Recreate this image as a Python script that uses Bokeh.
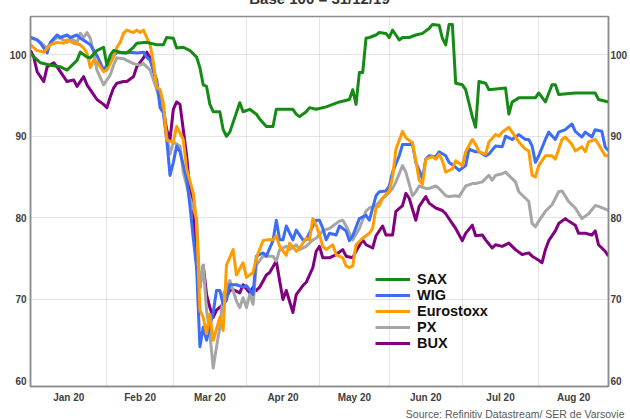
from bokeh.plotting import figure
from bokeh.models import Range1d, FixedTicker, Legend, LegendItem, LinearAxis, Title
from bokeh.embed import file_html
from bokeh.resources import INLINE

# Month labels and trading-day index where each month starts (weekday count from 31/12/19)
months = ["Jan 20", "Feb 20", "Mar 20", "Apr 20", "May 20", "Jun 20", "Jul 20", "Aug 20"]
month_starts = [0, 23, 43, 65, 87, 108, 130, 153, 174]
y_ticks = [60, 70, 80, 90, 100]

sax_x = [0, 3, 6, 9, 11, 12, 14, 15, 17, 18, 20, 22, 23, 24, 25, 27, 29, 31, 32, 35, 38, 40, 41, 43, 44, 46, 48, 50,
         51, 52, 53, 54, 55, 57, 58, 59, 60, 63, 64, 66, 68, 69, 71, 73, 74, 76, 79, 80, 81, 83, 84, 86, 89, 93, 96,
         97, 98, 99, 100, 101, 102, 104, 105, 107, 108, 109, 110, 111, 112, 114, 116, 118, 120, 121, 123, 124, 125,
         126, 127, 128, 130, 131, 133, 134, 135, 137, 138, 143, 144, 145, 147, 152, 153, 155, 157, 158, 159, 164,
         170, 171, 174]
sax_y = [100.1, 99.0, 98.7, 98.5, 98.1, 98.5, 99.3, 100.3, 99.7, 99.6, 100.5, 100.9, 98.7, 99.9, 100.5, 100.3, 100.2,
         100.9, 101.4, 101.5, 101.2, 101.2, 102.1, 102.0, 100.8, 100.9, 100.5, 99.7, 98.4, 96.3, 96.1, 93.9, 93.0,
         93.0, 90.8, 90.0, 90.5, 94.1, 93.0, 93.3, 92.7, 92.1, 91.2, 91.2, 93.3, 93.3, 93.3, 92.7, 92.4, 93.0, 93.5,
         93.3, 93.6, 94.2, 94.5, 95.7, 93.9, 97.8, 97.8, 102.0, 102.1, 102.4, 102.7, 102.6, 102.1, 103.0, 102.4,
         101.8, 102.1, 102.1, 102.4, 102.6, 103.2, 103.7, 103.6, 102.0, 101.2, 103.7, 103.7, 96.5, 96.3, 95.7, 92.4,
         91.1, 96.7, 96.5, 95.7, 95.9, 92.7, 94.2, 94.7, 94.7, 95.3, 94.2, 96.3, 96.3, 95.1, 95.3, 95.3, 94.5, 94.2]

wig_x = [0, 2, 3, 5, 6, 8, 9, 11, 12, 14, 15, 17, 18, 20, 22, 24, 26, 28, 30, 32, 34, 35, 36, 38, 39, 40, 41, 42, 43,
         44, 45, 47, 48, 49, 50, 51, 52, 53, 55, 56, 57, 58, 59, 60, 62, 64, 65, 67, 68, 70, 71, 73, 74, 75, 76, 77,
         79, 80, 82, 83, 85, 86, 87, 88, 89, 90, 92, 93, 95, 96, 97, 99, 101, 102, 104, 105, 107, 108, 109, 111, 112,
         114, 115, 116, 118, 119, 120, 122, 123, 125, 126, 128, 129, 131, 132, 134, 135, 137, 138, 140, 142, 143,
         145, 147, 149, 150, 151, 152, 153, 155, 156, 158, 159, 161, 163, 164, 166, 167, 169, 170, 172, 173, 174]
wig_y = [102.1, 101.8, 101.4, 100.2, 101.5, 102.4, 102.1, 102.4, 102.1, 102.4, 102.0, 101.5, 101.2, 99.9, 98.1, 99.3,
         100.3, 100.2, 100.3, 100.2, 100.3, 99.7, 99.3, 96.9, 93.5, 92.9, 89.6, 85.2, 86.8, 88.8, 88.1, 84.8, 81.5,
         77.5, 73.9, 64.2, 66.6, 65.0, 68.4, 71.1, 71.1, 69.4, 69.9, 71.8, 71.8, 71.5, 71.7, 70.6, 75.3, 75.7, 75.3,
         77.2, 79.7, 77.3, 77.3, 79.0, 77.3, 78.5, 77.3, 77.3, 79.0, 79.7, 79.7, 78.7, 77.3, 78.1, 77.9, 79.0, 78.4,
         77.2, 77.8, 79.9, 80.3, 79.7, 82.7, 83.2, 83.3, 83.9, 85.6, 87.6, 89.0, 89.0, 89.0, 86.8, 84.8, 87.2, 87.6,
         87.5, 88.1, 87.6, 86.8, 86.2, 85.8, 86.4, 88.4, 88.1, 88.1, 87.6, 87.8, 88.8, 88.7, 90.0, 89.6, 90.2, 89.6,
         89.6, 88.8, 86.8, 87.6, 89.6, 90.5, 89.6, 90.5, 90.8, 91.5, 90.6, 89.9, 90.5, 89.9, 90.8, 90.6, 88.7, 88.2]

stoxx_x = [0, 2, 4, 6, 8, 10, 11, 13, 15, 16, 17, 18, 19, 20, 22, 23, 25, 26, 27, 28, 29, 31, 32, 33, 34, 35, 36, 37,
           38, 39, 40, 41, 43, 44, 46, 47, 49, 50, 51, 52, 53, 54, 55, 57, 58, 59, 61, 62, 64, 65, 67, 68, 70, 71, 73,
           74, 75, 77, 78, 80, 81, 83, 84, 85, 86, 87, 88, 89, 91, 92, 94, 95, 96, 97, 98, 100, 102, 103, 104, 105,
           106, 108, 109, 110, 112, 113, 115, 116, 117, 118, 119, 121, 122, 123, 124, 125, 126, 127, 128, 130, 131,
           133, 134, 135, 137, 138, 140, 141, 142, 144, 145, 147, 149, 150, 151, 152, 153, 155, 157, 158, 160, 161,
           163, 164, 166, 167, 168, 170, 171, 173, 174]
stoxx_y = [101.2, 100.5, 100.3, 101.2, 101.5, 101.4, 101.8, 101.4, 101.2, 100.8, 100.2, 98.4, 99.3, 99.1, 97.9, 98.1,
           99.7, 100.9, 101.5, 102.6, 103.0, 102.7, 103.0, 102.7, 103.0, 102.1, 101.2, 99.0, 96.0, 95.7, 94.1, 89.5,
           89.3, 91.2, 89.6, 86.0, 83.0, 79.5, 68.7, 67.8, 65.8, 68.2, 65.0, 67.8, 66.2, 74.2, 76.1, 73.0, 74.5, 72.7,
           73.3, 75.1, 77.2, 77.3, 77.3, 77.8, 76.5, 75.4, 76.9, 75.9, 76.3, 77.5, 77.3, 79.9, 79.1, 77.9, 76.5, 76.1,
           76.7, 75.5, 75.1, 74.1, 73.9, 74.1, 76.7, 77.5, 78.1, 78.7, 81.2, 81.5, 82.4, 83.3, 85.0, 88.4, 90.6, 89.8,
           89.2, 87.0, 84.6, 84.1, 87.2, 87.5, 87.2, 87.8, 87.0, 85.6, 85.8, 86.0, 87.0, 86.4, 88.1, 89.6, 89.0, 88.1,
           87.8, 89.3, 90.2, 90.0, 90.5, 91.1, 90.5, 89.3, 88.4, 88.2, 85.2, 85.0, 86.4, 87.6, 87.6, 87.2, 89.6, 89.9,
           89.0, 88.2, 88.7, 88.1, 89.3, 89.6, 89.0, 87.6, 87.6]

px_x = [0, 2, 3, 5, 6, 8, 9, 11, 12, 14, 15, 16, 17, 18, 19, 20, 21, 22, 24, 25, 26, 28, 29, 31, 33, 34, 35, 36, 38,
        40, 41, 42, 43, 45, 46, 48, 50, 51, 52, 53, 54, 55, 56, 57, 58, 60, 61, 62, 63, 64, 65, 66, 67, 68, 70, 71, 73,
        74, 75, 77, 78, 80, 81, 83, 85, 86, 88, 90, 91, 93, 94, 95, 97, 99, 101, 102, 104, 106, 107, 109, 110, 112,
        113, 115, 116, 117, 119, 120, 122, 123, 125, 126, 128, 129, 131, 133, 134, 136, 138, 139, 140, 142, 143, 144,
        146, 147, 149, 150, 151, 152, 153, 155, 157, 159, 160, 162, 164, 166, 168, 170, 171, 174]
px_y = [102.1, 101.8, 101.5, 100.8, 101.4, 102.1, 102.0, 101.5, 102.0, 101.5, 102.6, 102.1, 102.7, 102.0, 100.2, 98.1,
        97.2, 96.3, 97.5, 98.7, 99.6, 99.5, 99.3, 98.9, 98.7, 98.9, 98.5, 98.1, 95.7, 92.9, 90.0, 87.8, 89.3, 88.8,
        85.6, 82.4, 79.9, 71.4, 74.2, 68.7, 65.8, 61.6, 64.2, 66.6, 70.6, 72.3, 71.1, 69.8, 69.0, 70.2, 69.0, 70.6,
        69.4, 74.2, 75.3, 75.3, 75.3, 74.7, 76.1, 76.5, 76.1, 76.7, 76.1, 76.5, 77.3, 77.5, 78.4, 78.7, 79.0, 79.6,
        79.7, 79.0, 77.3, 78.7, 80.8, 81.2, 81.5, 82.4, 82.7, 83.6, 84.4, 86.4, 85.6, 82.7, 83.2, 83.9, 83.6, 83.6,
        83.9, 83.6, 82.7, 82.6, 82.7, 82.6, 83.9, 84.2, 84.2, 84.4, 85.2, 84.6, 85.2, 85.4, 85.6, 85.2, 84.4, 83.2,
        82.4, 82.0, 79.3, 78.9, 79.6, 80.8, 81.6, 83.2, 83.3, 82.0, 81.2, 79.9, 80.5, 81.5, 81.4, 80.9]

bux_x = [0, 1, 2, 4, 5, 7, 8, 10, 11, 13, 14, 16, 17, 19, 20, 22, 23, 24, 25, 26, 28, 29, 31, 32, 34, 35, 36, 37, 38,
         39, 40, 41, 42, 43, 44, 45, 46, 47, 48, 49, 50, 51, 52, 53, 54, 55, 56, 58, 59, 60, 61, 63, 64, 66, 67, 68,
         69, 71, 72, 74, 75, 76, 77, 79, 80, 82, 83, 85, 86, 87, 88, 90, 92, 94, 95, 97, 98, 100, 101, 103, 104, 106,
         107, 109, 110, 112, 113, 114, 116, 117, 119, 120, 122, 124, 125, 127, 128, 130, 131, 133, 134, 136, 137, 139,
         140, 142, 144, 146, 148, 150, 151, 153, 154, 155, 156, 158, 159, 161, 162, 164, 165, 167, 169, 170, 171, 173,
         174]
bux_y = [100.5, 99.7, 97.9, 96.7, 98.5, 99.0, 98.5, 97.3, 96.7, 96.9, 96.1, 97.3, 96.3, 95.1, 94.5, 93.9, 93.5, 94.8,
         95.9, 96.5, 96.7, 96.7, 97.3, 98.5, 99.6, 100.3, 99.6, 98.1, 96.3, 94.5, 93.3, 90.8, 89.6, 93.3, 94.2, 93.9,
         90.8, 87.6, 83.3, 81.5, 74.2, 71.5, 74.2, 70.6, 69.0, 67.8, 68.7, 69.4, 70.3, 71.1, 71.2, 70.8, 71.8, 70.8,
         71.5, 71.1, 71.5, 73.0, 73.3, 74.7, 72.3, 70.0, 71.1, 68.4, 70.6, 71.7, 72.1, 73.9, 75.9, 76.5, 75.1, 75.1,
         75.5, 76.1, 75.3, 75.1, 75.9, 77.3, 76.7, 76.3, 77.8, 79.0, 77.9, 77.9, 80.8, 81.5, 83.0, 82.4, 79.7, 81.4,
         82.6, 81.8, 81.2, 80.9, 80.5, 79.3, 78.7, 77.2, 78.1, 79.1, 77.8, 77.9, 77.3, 76.3, 76.7, 76.5, 76.9, 76.1,
         75.5, 75.7, 75.3, 74.8, 74.5, 76.1, 77.2, 78.4, 79.3, 79.9, 79.6, 79.1, 78.1, 78.1, 77.9, 78.4, 76.7, 75.9,
         75.3]

title_text = "Base 100 = 31/12/19"
source_text = "Source: Refinitiv Datastream/ SER de Varsovie"

FONT = "Liberation Sans"
AXIS_GRAY = "#8c8c8c"
LABEL_COLOR = "#404040"
SHIFT = 24  # part of the canvas hidden above the window (title is cut off in the original)

p = figure(width=630, height=419 + SHIFT, output_backend="svg", toolbar_location=None,
           x_range=Range1d(0, month_starts[-1]), y_range=Range1d(59.33, 104.67),
           min_border_left=30, min_border_right=19, min_border_top=16 + SHIFT, min_border_bottom=29,
           background_fill_color="white", border_fill_color="white")
p.styles = {"margin-top": f"-{SHIFT}px"}

p.title = Title(text=title_text, align="center", standoff=19,
                text_font=FONT, text_font_style="bold", text_font_size="15px", text_color="#333333")

p.outline_line_color = AXIS_GRAY
p.outline_line_width = 1.5

# grids
p.xgrid.ticker = FixedTicker(ticks=month_starts[1:-1])
p.ygrid.ticker = FixedTicker(ticks=y_ticks[1:])
for g in (p.xgrid, p.ygrid):
    g.grid_line_color = "#c8c8c8"
    g.grid_line_dash = "1 1"
    g.grid_line_width = 1

# x axis: labels centred in each month
mids = [(a + b) / 2 for a, b in zip(month_starts[:-1], month_starts[1:])]
p.xaxis.ticker = FixedTicker(ticks=mids)
p.xaxis.major_label_overrides = {m: lab for m, lab in zip(mids, months)}
p.yaxis.ticker = FixedTicker(ticks=y_ticks)

right_axis = LinearAxis(ticker=FixedTicker(ticks=y_ticks))
p.add_layout(right_axis, "right")

for ax in (p.xaxis[0], p.yaxis[0], right_axis):
    ax.axis_line_color = AXIS_GRAY
    ax.axis_line_width = 1.5
    ax.major_tick_line_color = None
    ax.minor_tick_line_color = None
    ax.major_tick_out = 0
    ax.major_tick_in = 0
    ax.minor_tick_out = 0
    ax.minor_tick_in = 0
    ax.major_label_text_font = FONT
    ax.major_label_text_font_style = "bold"
    ax.major_label_text_font_size = "10px"
    ax.major_label_text_color = LABEL_COLOR
p.xaxis.major_label_standoff = 5
p.yaxis[0].major_label_standoff = 4
right_axis.major_label_standoff = 2

# series
r_bux = p.line(bux_x, bux_y, line_color="#800080", line_width=3, line_join="round")
r_px = p.line(px_x, px_y, line_color="#a6a6a6", line_width=3, line_join="round")
r_wig = p.line(wig_x, wig_y, line_color="#3d6cf5", line_width=3, line_join="round")
r_stoxx = p.line(stoxx_x, stoxx_y, line_color="#ff9c00", line_width=3, line_join="round")
r_sax = p.line(sax_x, sax_y, line_color="#158a15", line_width=3, line_join="round")

legend = Legend(items=[LegendItem(label="SAX", renderers=[r_sax]),
                       LegendItem(label="WIG", renderers=[r_wig]),
                       LegendItem(label="Eurostoxx", renderers=[r_stoxx]),
                       LegendItem(label="PX", renderers=[r_px]),
                       LegendItem(label="BUX", renderers=[r_bux])],
                location=(345, 35), orientation="vertical",
                border_line_color=None, background_fill_alpha=0,
                padding=0, margin=0, spacing=0,
                glyph_width=35, glyph_height=16, label_height=16, label_standoff=7,
                label_text_font=FONT, label_text_font_style="bold", label_text_font_size="14.5px",
                label_text_color="#111111", label_text_baseline="middle")
p.add_layout(legend)

# source note below the x axis, right aligned
p.add_layout(Title(text=source_text, align="right", offset=-16, standoff=0,
                   text_font=FONT, text_font_style="normal", text_font_size="10.5px",
                   text_color="#595959"), "below")

open("out.html", "w").write(file_html(p, INLINE))
